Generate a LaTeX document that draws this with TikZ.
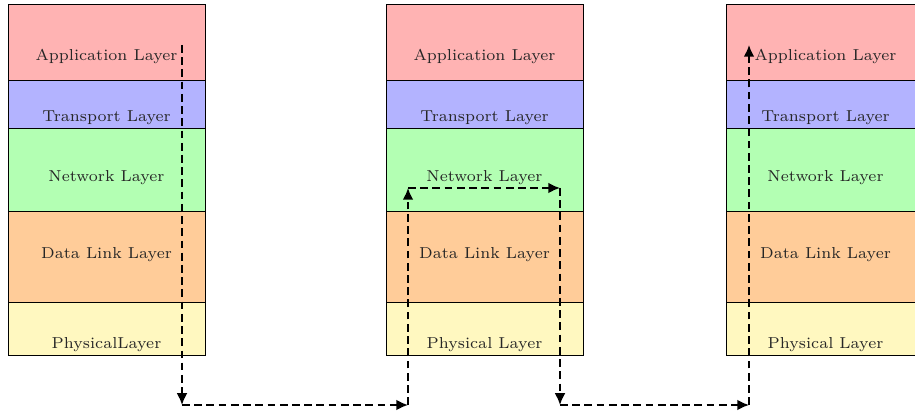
\documentclass[tikz,border=0pt]{standalone}
\usetikzlibrary{arrows.meta}
\definecolor{appc}{RGB}{255,179,179}
\definecolor{trnc}{RGB}{179,179,255}
\definecolor{netc}{RGB}{179,255,179}
\definecolor{dlc}{RGB}{255,204,153}
\definecolor{phyc}{RGB}{255,248,192}
\tikzset{
  layer/.style={draw=black, line width=0.4pt, inner sep=0pt, outer sep=0pt, anchor=north west, minimum width=197*0.4255pt},
  lbl/.style={font=\fontsize{6.75}{8}\selectfont, inner sep=0pt, text=black!85},
  flow/.style={line width=0.8pt, dash pattern=on 3.3pt off 1.9pt, -{Latex[length=5pt,width=4.6pt]}},
}
\begin{document}
\begin{tikzpicture}[x=0.4255pt, y=-0.4255pt]
\useasboundingbox (0,0) rectangle (915,412);
\foreach \s/\x in {L/8, M/386, R/726}{
  \node[layer, fill=appc, minimum height=76*0.4255pt] (app\s) at (\x,4) {};
  \node[layer, fill=trnc, minimum height=48*0.4255pt] (trn\s) at (\x,80) {};
  \node[layer, fill=netc, minimum height=83*0.4255pt] (net\s) at (\x,128) {};
  \node[layer, fill=dlc, minimum height=91*0.4255pt] (dl\s) at (\x,211) {};
  \node[layer, fill=phyc, minimum height=53*0.4255pt] (phy\s) at (\x,302) {};
}
\foreach \s/\c in {L/106.5, M/484.5, R/825.5}{
  \node[lbl] (tapp\s) at (\c,56.5) {Application Layer};
  \node[lbl] (ttrn\s) at (\c,117.5) {Transport Layer};
  \node[lbl] (tnet\s) at (\c,177.5) {Network Layer};
  \node[lbl] (tdl\s) at (\c,254.5) {Data Link Layer};
}
\node[lbl] (tphyL) at (106.5,344.5) {PhysicalLayer};
\node[lbl] (tphyM) at (484.5,344.5) {Physical Layer};
\node[lbl] (tphyR) at (825.5,344.5) {Physical Layer};
\coordinate (a1) at (182,45);
\coordinate (b1) at (182,405);
\coordinate (b2) at (408,405);
\coordinate (c2) at (408,188);
\coordinate (c3) at (560,188);
\coordinate (b3) at (560,405);
\coordinate (b4) at (749,405);
\coordinate (a4) at (749,45);
\draw[flow] (a1) -- (b1);
\draw[flow] (b1) -- (b2);
\draw[flow] (b2) -- (c2);
\draw[flow] (c2) -- (c3);
\draw[flow] (c3) -- (b3);
\draw[flow] (b3) -- (b4);
\draw[flow] (b4) -- (a4);
\end{tikzpicture}
\end{document}
